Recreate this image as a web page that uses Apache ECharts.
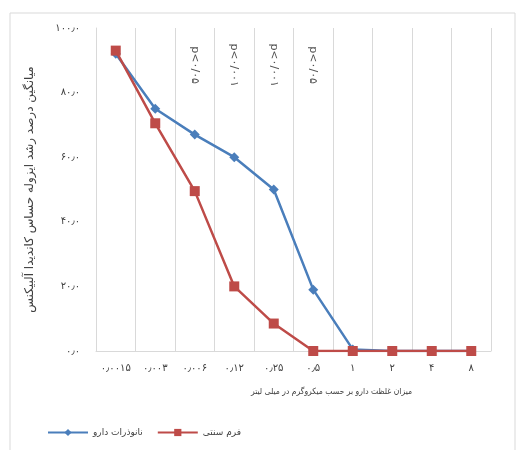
<!DOCTYPE html>
<html>
<head>
<meta charset="utf-8">
<script src="https://cdn.jsdelivr.net/npm/echarts@6/dist/echarts.min.js"></script>
<style>
  html, body { margin: 0; padding: 0; background: #fff; }
  #chart { width: 520px; height: 450px; }
</style>
</head>
<body>
<div id="chart"></div>
<script>
// Drug concentration categories (µg/ml)
const categories = ['۰٫۰۰۱۵', '۰٫۰۰۳', '۰٫۰۰۶', '۰٫۱۲', '۰٫۲۵', '۰٫۵', '۱', '۲', '۴', '۸'];
// Mean growth percentage of sensitive C. albicans isolates
const nanoValues = [92, 75, 67, 60, 50, 19, 0.5, 0, 0, 0];
const conventionalValues = [93, 70.5, 49.5, 20, 8.5, 0, 0, 0, 0, 0];
const seriesNames = ['نانوذرات دارو', 'فرم سنتی'];
// Significance labels above concentrations 3..6
const sigCategories = ['۰٫۰۰۶', '۰٫۱۲', '۰٫۲۵', '۰٫۵'];
const sigLabels = ['p<۰/۰۵', 'p<۰/۰۰۱', 'p<۰/۰۰۱', 'p<۰/۰۵'];
const sigLevel = 88.5;
// Y-axis tick labels
const yTickValues = [0, 20, 40, 60, 80, 100];
const yTickLabels = ['۰٫۰', '۲۰٫۰', '۴۰٫۰', '۶۰٫۰', '۸۰٫۰', '۱۰۰٫۰'];

const FONT = "'DejaVu Sans', sans-serif";
const FONT_NARROW = "'DejaVu Sans Condensed', 'DejaVu Sans', sans-serif";
const chart = echarts.init(document.getElementById('chart'));

chart.setOption({
  animation: false,
  backgroundColor: '#fff',
  textStyle: { fontFamily: FONT },
  graphic: [{
    type: 'rect',
    shape: { x: 10, y: 13, width: 505, height: 460 },
    style: { fill: 'none', stroke: '#d9d9d9', lineWidth: 1 },
    silent: true
  }],
  grid: { left: 96, right: 29, top: 28, bottom: 99 },
  legend: {
    left: 42,
    top: 423,
    itemWidth: 40,
    itemHeight: 9,
    itemGap: 14,
    data: seriesNames,
    textStyle: { fontFamily: FONT, fontSize: 9, color: '#404040' }
  },
  xAxis: {
    type: 'category',
    data: categories,
    boundaryGap: true,
    name: 'میزان غلظت دارو بر حسب میکروگرم در میلی لیتر',
    nameLocation: 'middle',
    nameGap: 36,
    nameTextStyle: { fontFamily: FONT_NARROW, fontSize: 8.5, color: '#404040', padding: [0, 0, 0, 76] },
    axisLine: { show: true, lineStyle: { color: '#d9d9d9', width: 1 } },
    axisTick: { show: false },
    axisLabel: { interval: 0, margin: 12, fontFamily: FONT, fontSize: 10, color: '#404040' },
    splitLine: { show: true, lineStyle: { color: '#d9d9d9', width: 1 } }
  },
  yAxis: {
    type: 'value',
    min: 0,
    max: 100,
    interval: 20,
    name: 'میانگین درصد رشد ایزوله حساس کاندیدا آلبیکنس',
    nameLocation: 'middle',
    nameRotate: 90,
    nameGap: 60,
    nameTextStyle: { fontFamily: FONT, fontSize: 12, color: '#404040' },
    axisLine: { show: true, lineStyle: { color: '#d9d9d9', width: 1 } },
    axisTick: { show: false },
    splitLine: { show: false },
    axisLabel: {
      margin: 16,
      fontFamily: FONT,
      fontSize: 10,
      color: '#404040',
      formatter: v => yTickLabels[yTickValues.indexOf(v)]
    }
  },
  series: [
    {
      name: seriesNames[0],
      type: 'line',
      data: nanoValues,
      symbol: 'diamond',
      symbolSize: 10,
      lineStyle: { color: '#4a7ebb', width: 2.5 },
      itemStyle: { color: '#4a7ebb' },
      z: 2
    },
    {
      name: seriesNames[1],
      type: 'line',
      data: conventionalValues,
      symbol: 'rect',
      symbolSize: 10,
      lineStyle: { color: '#be4b48', width: 2.5 },
      itemStyle: { color: '#be4b48' },
      z: 3
    },
    {
      name: 'sig',
      type: 'scatter',
      data: sigCategories.map((c, i) => ({ value: [c, sigLevel], label: { formatter: sigLabels[i] } })),
      symbolSize: 1,
      itemStyle: { color: 'transparent' },
      silent: true,
      label: {
        show: true,
        position: 'inside',
        rotate: -90,
        fontFamily: FONT,
        fontSize: 11,
        color: '#222'
      },
      z: 4
    }
  ]
});
</script>
</body>
</html>
